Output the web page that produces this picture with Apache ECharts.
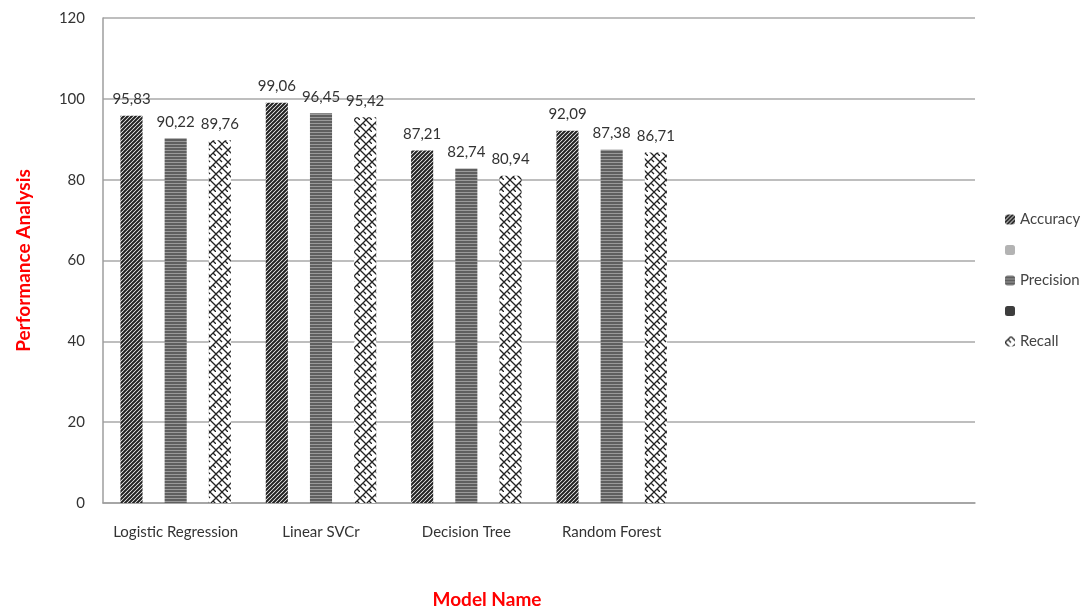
<!DOCTYPE html>
<html>
<head>
<meta charset="utf-8">
<script src="https://cdn.jsdelivr.net/npm/echarts@6/dist/echarts.min.js"></script>
<style>
  html, body { margin: 0; padding: 0; background: #fff; }
  #chart { width: 1083px; height: 614px; }
</style>
</head>
<body>
<div id="chart"></div>
<script>
// categories (last two slots are empty in the original chart)
const models = ['Logistic Regression', 'Linear SVCr', 'Decision Tree', 'Random Forest', '', ''];
const accuracy = [95.83, 99.06, 87.21, 92.09, null, null];
const precision = [90.22, 96.45, 82.74, 87.38, null, null];
const recall = [89.76, 95.42, 80.94, 86.71, null, null];
const yTicks = { min: 0, max: 120, interval: 20 };

// pattern tiles
function makeTile(w, h, draw) {
  const c = document.createElement('canvas');
  c.width = w; c.height = h;
  draw(c.getContext('2d'), w, h);
  return c;
}

const hatchTile = makeTile(4, 4, (ctx, w, h) => {
  ctx.fillStyle = '#ffffff';
  ctx.fillRect(0, 0, w, h);
  ctx.strokeStyle = '#222';
  ctx.lineWidth = 2;
  ctx.beginPath();
  ctx.moveTo(-1, h + 1); ctx.lineTo(w + 1, -1);
  ctx.moveTo(-1 - w, h + 1); ctx.lineTo(1, -1);
  ctx.moveTo(w - 1, h + 1); ctx.lineTo(2 * w + 1, -1);
  ctx.stroke();
});

const stripeTile = makeTile(4, 3, (ctx, w, h) => {
  ctx.fillStyle = '#5f5f5f';
  ctx.fillRect(0, 0, w, h);
  ctx.fillStyle = '#9a9a9a';
  ctx.fillRect(0, 0, w, 1);
});

const weaveTile = makeTile(12, 12, (ctx, w, h) => {
  ctx.fillStyle = '#ffffff';
  ctx.fillRect(0, 0, w, h);
  ctx.strokeStyle = '#222';
  ctx.lineWidth = 1.3;
  ctx.beginPath();
  // "/" strokes
  ctx.moveTo(0, 6); ctx.lineTo(6, 0);
  ctx.moveTo(6, 12); ctx.lineTo(12, 6);
  // "\" strokes, offset to give the zig-zag look
  ctx.moveTo(0, 6); ctx.lineTo(6, 12);
  ctx.moveTo(6, 0); ctx.lineTo(12, 6);
  // short connectors
  ctx.moveTo(3, 3); ctx.lineTo(6, 6);
  ctx.moveTo(9, 9); ctx.lineTo(12, 12);
  ctx.stroke();
});

const chart = echarts.init(document.getElementById('chart'));

const font = 'Lato, "Open Sans", sans-serif';
const valueLabel = {
  show: true,
  position: 'top',
  distance: 9,
  color: '#333',
  fontSize: 15,
  fontFamily: font,
  formatter: p => p.value == null ? '' : p.value.toFixed(2).replace('.', ',')
};

chart.setOption({
  animation: false,
  textStyle: { fontFamily: font },
  grid: { left: 103, right: 108, top: 18, bottom: 109 },
  legend: {
    orient: 'vertical',
    left: 1000,
    top: 207,
    itemWidth: 10,
    itemHeight: 10,
    itemGap: 18,
    textStyle: { fontSize: 15, color: '#444', fontFamily: font },
    formatter: name => name.indexOf('blank') === 0 ? '' : name,
    data: ['Accuracy', 'blank1', 'Precision', 'blank2', 'Recall']
  },
  xAxis: {
    type: 'category',
    data: models,
    name: 'Model Name',
    nameLocation: 'middle',
    nameGap: 87,
    nameTextStyle: {
      color: '#ff0000', fontSize: 19, fontWeight: 'bold', fontFamily: font,
      padding: [0, 104, 0, 0]
    },
    axisLine: { lineStyle: { color: '#9e9e9e', width: 1.5 } },
    axisTick: { show: false },
    axisLabel: { color: '#333', fontSize: 15, margin: 22, interval: 0 }
  },
  yAxis: {
    type: 'value',
    min: yTicks.min,
    max: yTicks.max,
    interval: yTicks.interval,
    name: 'Performance Analysis',
    nameLocation: 'middle',
    nameGap: 70,
    nameTextStyle: { color: '#ff0000', fontSize: 19, fontWeight: 'bold', fontFamily: font },
    axisLine: { show: true, lineStyle: { color: '#9e9e9e', width: 1.5 } },
    axisTick: { show: false },
    axisLabel: { color: '#333', fontSize: 15, margin: 18 },
    splitLine: { lineStyle: { color: '#a8a8a8', width: 1.5 } }
  },
  series: [
    {
      name: 'Accuracy', type: 'bar', data: accuracy,
      barGap: '0%', barCategoryGap: '24%',
      itemStyle: { color: { image: hatchTile, repeat: 'repeat' } },
      label: valueLabel
    },
    {
      name: 'blank1', type: 'bar', data: models.map(() => null),
      itemStyle: { color: '#b3b3b3' }
    },
    {
      name: 'Precision', type: 'bar', data: precision,
      itemStyle: { color: { image: stripeTile, repeat: 'repeat' } },
      label: valueLabel
    },
    {
      name: 'blank2', type: 'bar', data: models.map(() => null),
      itemStyle: { color: '#3d3d3d' }
    },
    {
      name: 'Recall', type: 'bar', data: recall,
      itemStyle: { color: { image: weaveTile, repeat: 'repeat' } },
      label: valueLabel
    }
  ]
});
</script>
</body>
</html>
